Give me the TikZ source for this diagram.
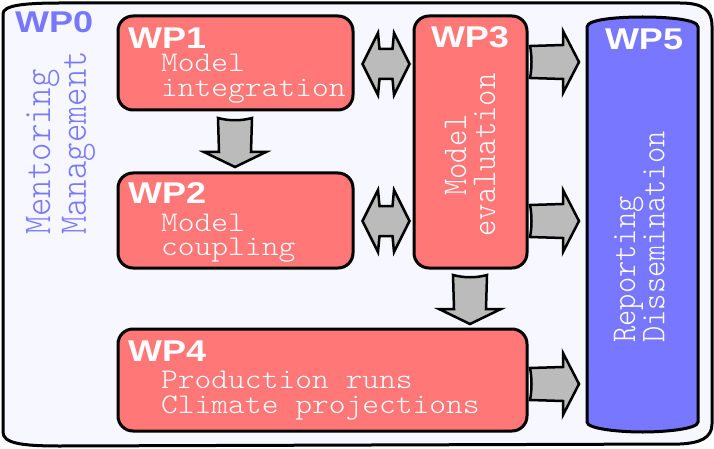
\documentclass[tikz,border=0pt]{standalone}
\usepackage{fontspec}
\usepackage{graphicx}
\newfontfamily\wpfont{Liberation Sans}[BoldFont={Liberation Sans Bold}]
\newfontfamily\lightmono{lmmonolt10-regular.otf}
\definecolor{bgfill}{HTML}{F7F8FF}
\definecolor{wpred}{HTML}{FF7777}
\definecolor{wpblue}{HTML}{7777FF}
\definecolor{arrgray}{HTML}{BBBBBB}
\newcommand{\hs}[1]{\scalebox{1.12}[1]{#1}}
\newcommand{\vs}[1]{\scalebox{1}[1.12]{#1}}
\newcommand{\lines}[2]{\begin{tabular}[t]{@{}#1@{}}#2\end{tabular}}
\newcommand{\lbl}[1]{\scalebox{1.2}[1]{\wpfont\bfseries\fontsize{30}{30}\selectfont #1}}
\newcommand{\downarr}[2]{%
  \draw[blockarr] ({#1-17},{#2}) .. controls ({#1-6},{#2+3}) and ({#1+6},{#2+3}) .. ({#1+17},{#2})
    -- ({#1+16},{#2+34}) -- ({#1+31},{#2+34}) -- ({#1},{#2+49}) -- ({#1-31},{#2+34}) -- ({#1-16},{#2+34}) -- cycle;}
\newcommand{\rightarr}[2]{%
  \draw[blockarr] ({#1},{#2-16}) -- ({#1+33},{#2-17}) -- ({#1+33},{#2-31}) -- ({#1+49},{#2}) -- ({#1+33},{#2+31})
    -- ({#1+33},{#2+17}) -- ({#1},{#2+16}) .. controls ({#1+2},{#2+6}) and ({#1+2},{#2-6}) .. cycle;}
\newcommand{\dblarr}[2]{%
  \draw[blockarr] ({#1-23.5},{#2}) -- ({#1-8},{#2-31}) -- ({#1-6.5},{#2-15}) -- ({#1+6.5},{#2-15}) -- ({#1+8},{#2-31})
    -- ({#1+23.5},{#2}) -- ({#1+8},{#2+31}) -- ({#1+6.5},{#2+15}) -- ({#1-6.5},{#2+15}) -- ({#1-8},{#2+31}) -- cycle;}
\begin{document}
\begin{tikzpicture}[x=1pt,y=-1pt,
  box/.style={draw=black,line width=3pt,fill=wpred,rounded corners=15pt,rectangle,inner sep=0pt},
  blockarr/.style={draw=black,line width=2.5pt,fill=arrgray,line join=miter},
  lab/.style={inner sep=0pt,text=white},
  mono/.style={inner sep=0pt,text=white,font=\lightmono\fontsize{28.5}{24.5}\selectfont},
  rmono/.style={inner sep=0pt,text=white,rotate=90,font=\lightmono\fontsize{31}{23.5}\selectfont},
  mentor/.style={inner sep=0pt,text=wpblue,rotate=90,font=\lightmono\fontsize{35}{32}\selectfont}]
\useasboundingbox (0,0) rectangle (714,449);
% outer tape
\draw[line width=3pt,fill=bgfill] (3,14) .. controls (3,6) and (20,3) .. (60,3) -- (680,3)
  .. controls (703,3) and (712,10) .. (712,26) -- (712,424) .. controls (712,438) and (700,443) .. (680,444)
  -- (60,446) .. controls (20,446) and (3,443) .. (3,432) -- cycle;
\node[inner sep=0pt,anchor=base west,text=wpblue] (wp0) at (15,33) {\lbl{WP0}};
\node[mentor,anchor=base west] (ment) at (50,235) {\vs{\lines{l}{Mentoring\\Management}}};
% boxes
\node[box,minimum width=235pt,minimum height=94pt] (wp1) at (235.5,63) {};
\node[box,minimum width=235pt,minimum height=95pt] (wp2) at (235.5,220.5) {};
\node[box,minimum width=113pt,minimum height=252pt] (wp3) at (470.5,142) {};
\node[box,minimum width=409pt,minimum height=102pt] (wp4) at (322.5,380) {};
\draw[line width=3pt,fill=wpblue] (587,27) .. controls (587,19) and (620,17) .. (642.5,17) .. controls (665,17) and (698,19) .. (698,27)
  -- (698,422) .. controls (698,429) and (665,432) .. (642.5,432) .. controls (620,432) and (587,429) .. (587,422) -- cycle;
\coordinate (wp5) at (642.5,225);
% labels
\node[lab,anchor=base west] (l1) at (128,49) {\lbl{WP1}};
\node[mono,anchor=base west] (t1) at (161,72) {\hs{\lines{l}{Model\\integration}}};
\node[lab,anchor=base west] (l2) at (128,204) {\lbl{WP2}};
\node[mono,anchor=base west] (t2) at (161,231) {\hs{\lines{l}{Model\\coupling}}};
\node[lab,anchor=base] (l3) at (470,48) {\lbl{WP3}};
\node[rmono,anchor=base] (t3) at (466,155) {\vs{\lines{c}{Model\\evaluation}}};
\node[lab,anchor=base west] (l4) at (128,361) {\lbl{WP4}};
\node[mono,anchor=base west] (t4) at (161,388) {\hs{\lines{l}{Production runs\\Climate projections}}};
\node[lab,anchor=base] (l5) at (644,50) {\lbl{WP5}};
\node[rmono,anchor=base west] (t5) at (635,343) {\vs{\lines{l}{Reporting\\Dissemination}}};
% arrows
\downarr{235}{118}
\downarr{470}{275}
\dblarr{386}{64}
\dblarr{386}{221}
\rightarr{530}{62}
\rightarr{530}{221}
\rightarr{530}{384}
\end{tikzpicture}
\end{document}
